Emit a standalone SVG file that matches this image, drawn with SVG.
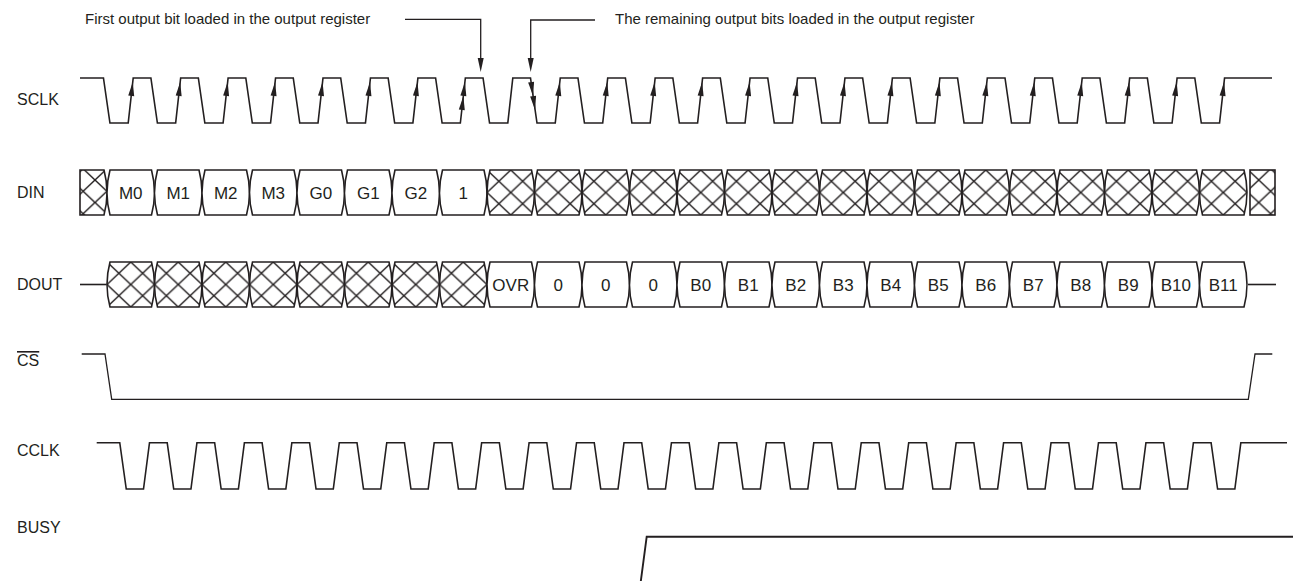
<svg xmlns="http://www.w3.org/2000/svg" xmlns:xlink="http://www.w3.org/1999/xlink" width="1293" height="581" viewBox="0 0 1293 581">
<style>
  .wave { fill: none; stroke: #231f20; stroke-width: 1.6; stroke-linejoin: miter; }
  .thin { fill: none; stroke: #231f20; stroke-width: 1.3; }
  .lbl { font-family: "Liberation Sans", Arial, sans-serif; font-size: 16px; fill: #231f20; }
  .ctxt { font-family: "Liberation Sans", Arial, sans-serif; font-size: 17px; fill: #231f20; text-anchor: middle; }
  .note { font-family: "Liberation Sans", Arial, sans-serif; font-size: 15px; fill: #231f20; }
  .ah { fill: #231f20; stroke: none; }
</style>
<defs>
  <pattern id="hatch" patternUnits="userSpaceOnUse" x="0" y="0" width="23.75" height="22.5">
    <path d="M0,0 L23.75,22.5 M23.75,0 L0,22.5" stroke="#231f20" stroke-width="1.4" fill="none"/>
  </pattern>
  <path id="cell" d="M3,0 H44.5 Q50.5,22.5 44.5,45 H3 Q-3,22.5 3,0 Z" fill="#ffffff" stroke="#231f20" stroke-width="1.6"/>
  <path id="xcell" d="M3,0 H44.5 Q50.5,22.5 44.5,45 H3 Q-3,22.5 3,0 Z" fill="url(#hatch)" stroke="#231f20" stroke-width="1.6"/>
  <path id="ahU" d="M0,0 L3,14 L-3,14 Z"/>
  <path id="ahD" d="M0,0 L3,-14 L-3,-14 Z"/>
</defs>
<rect x="0" y="0" width="1293" height="581" fill="#ffffff"/>

<g id="labels">
  <text class="lbl" x="17" y="105">SCLK</text>
  <text class="lbl" x="17" y="198">DIN</text>
  <text class="lbl" x="17" y="290">DOUT</text>
  <text class="lbl" x="17" y="366" text-decoration="overline">CS</text>
  <text class="lbl" x="17" y="456">CCLK</text>
  <text class="lbl" x="17" y="533">BUSY</text>
</g>

<g id="sclk">
  <path class="wave" d="M80,78 H103.45 l6.5,45 h18.25 l5,-45 h17.7 l6.5,45 h18.25 l5,-45 h17.7 l6.5,45 h18.25 l5,-45 h17.7 l6.5,45 h18.25 l5,-45 h17.7 l6.5,45 h18.25 l5,-45 h17.7 l6.5,45 h18.25 l5,-45 h17.7 l6.5,45 h18.25 l5,-45 h17.7 l6.5,45 h18.25 l5,-45 h17.7 l6.5,45 h18.25 l5,-45 h17.7 l6.5,45 h18.25 l5,-45 h17.7 l6.5,45 h18.25 l5,-45 h17.7 l6.5,45 h18.25 l5,-45 h17.7 l6.5,45 h18.25 l5,-45 h17.7 l6.5,45 h18.25 l5,-45 h17.7 l6.5,45 h18.25 l5,-45 h17.7 l6.5,45 h18.25 l5,-45 h17.7 l6.5,45 h18.25 l5,-45 h17.7 l6.5,45 h18.25 l5,-45 h17.7 l6.5,45 h18.25 l5,-45 h17.7 l6.5,45 h18.25 l5,-45 h17.7 l6.5,45 h18.25 l5,-45 h17.7 l6.5,45 h18.25 l5,-45 h17.7 l6.5,45 h18.25 l5,-45 h17.7 l6.5,45 h18.25 l5,-45 H1272"/>
  <g class="ah">
    <use href="#ahU" transform="translate(132.76,82) rotate(6.3)"/>
    <use href="#ahU" transform="translate(180.21,82) rotate(6.3)"/>
    <use href="#ahU" transform="translate(227.66,82) rotate(6.3)"/>
    <use href="#ahU" transform="translate(275.11,82) rotate(6.3)"/>
    <use href="#ahU" transform="translate(322.56,82) rotate(6.3)"/>
    <use href="#ahU" transform="translate(370.01,82) rotate(6.3)"/>
    <use href="#ahU" transform="translate(417.46,82) rotate(6.3)"/>
    <use href="#ahU" transform="translate(464.91,82) rotate(6.3)"/>
    <use href="#ahU" transform="translate(463.35,96) rotate(6.3)"/>
    <use href="#ahD" transform="translate(533.1,96) rotate(-8.2)"/>
    <use href="#ahD" transform="translate(535.1,110) rotate(-8.2)"/>
    <use href="#ahU" transform="translate(559.81,82) rotate(6.3)"/>
    <use href="#ahU" transform="translate(607.26,82) rotate(6.3)"/>
    <use href="#ahU" transform="translate(654.71,82) rotate(6.3)"/>
    <use href="#ahU" transform="translate(702.16,82) rotate(6.3)"/>
    <use href="#ahU" transform="translate(749.61,82) rotate(6.3)"/>
    <use href="#ahU" transform="translate(797.06,82) rotate(6.3)"/>
    <use href="#ahU" transform="translate(844.51,82) rotate(6.3)"/>
    <use href="#ahU" transform="translate(891.96,82) rotate(6.3)"/>
    <use href="#ahU" transform="translate(939.41,82) rotate(6.3)"/>
    <use href="#ahU" transform="translate(986.86,82) rotate(6.3)"/>
    <use href="#ahU" transform="translate(1034.31,82) rotate(6.3)"/>
    <use href="#ahU" transform="translate(1081.76,82) rotate(6.3)"/>
    <use href="#ahU" transform="translate(1129.21,82) rotate(6.3)"/>
    <use href="#ahU" transform="translate(1176.66,82) rotate(6.3)"/>
    <use href="#ahU" transform="translate(1224.11,82) rotate(6.3)"/>
  </g>
</g>

<g id="din">
  <path d="M80,170 H104 Q110,192.5 104,215 H80 Z" fill="url(#hatch)" stroke="#231f20" stroke-width="1.6"/>
  <use href="#cell" x="107" y="170"/>
  <use href="#cell" x="154.5" y="170"/>
  <use href="#cell" x="202" y="170"/>
  <use href="#cell" x="249.5" y="170"/>
  <use href="#cell" x="297" y="170"/>
  <use href="#cell" x="344.5" y="170"/>
  <use href="#cell" x="392" y="170"/>
  <use href="#cell" x="439.5" y="170"/>
  <use href="#xcell" x="487" y="170"/>
  <use href="#xcell" x="534.5" y="170"/>
  <use href="#xcell" x="582" y="170"/>
  <use href="#xcell" x="629.5" y="170"/>
  <use href="#xcell" x="677" y="170"/>
  <use href="#xcell" x="724.5" y="170"/>
  <use href="#xcell" x="772" y="170"/>
  <use href="#xcell" x="819.5" y="170"/>
  <use href="#xcell" x="867" y="170"/>
  <use href="#xcell" x="914.5" y="170"/>
  <use href="#xcell" x="962" y="170"/>
  <use href="#xcell" x="1009.5" y="170"/>
  <use href="#xcell" x="1057" y="170"/>
  <use href="#xcell" x="1104.5" y="170"/>
  <use href="#xcell" x="1152" y="170"/>
  <use href="#xcell" x="1199.5" y="170"/>
  <rect x="1250" y="170" width="25" height="45" fill="url(#hatch)" stroke="#231f20" stroke-width="1.6"/>
  <text class="ctxt" x="130.75" y="198.6">M0</text>
  <text class="ctxt" x="178.25" y="198.6">M1</text>
  <text class="ctxt" x="225.75" y="198.6">M2</text>
  <text class="ctxt" x="273.25" y="198.6">M3</text>
  <text class="ctxt" x="320.75" y="198.6">G0</text>
  <text class="ctxt" x="368.25" y="198.6">G1</text>
  <text class="ctxt" x="415.75" y="198.6">G2</text>
  <text class="ctxt" x="463.25" y="198.6">1</text>
</g>

<g id="dout">
  <path class="wave" d="M80,284.5 H106.7"/>
  <path class="wave" d="M1248,284.5 H1276"/>
  <use href="#xcell" x="107" y="262"/>
  <use href="#xcell" x="154.5" y="262"/>
  <use href="#xcell" x="202" y="262"/>
  <use href="#xcell" x="249.5" y="262"/>
  <use href="#xcell" x="297" y="262"/>
  <use href="#xcell" x="344.5" y="262"/>
  <use href="#xcell" x="392" y="262"/>
  <use href="#xcell" x="439.5" y="262"/>
  <use href="#cell" x="487" y="262"/>
  <use href="#cell" x="534.5" y="262"/>
  <use href="#cell" x="582" y="262"/>
  <use href="#cell" x="629.5" y="262"/>
  <use href="#cell" x="677" y="262"/>
  <use href="#cell" x="724.5" y="262"/>
  <use href="#cell" x="772" y="262"/>
  <use href="#cell" x="819.5" y="262"/>
  <use href="#cell" x="867" y="262"/>
  <use href="#cell" x="914.5" y="262"/>
  <use href="#cell" x="962" y="262"/>
  <use href="#cell" x="1009.5" y="262"/>
  <use href="#cell" x="1057" y="262"/>
  <use href="#cell" x="1104.5" y="262"/>
  <use href="#cell" x="1152" y="262"/>
  <use href="#cell" x="1199.5" y="262"/>
  <text class="ctxt" x="510.75" y="290.6">OVR</text>
  <text class="ctxt" x="558.25" y="290.6">0</text>
  <text class="ctxt" x="605.75" y="290.6">0</text>
  <text class="ctxt" x="653.25" y="290.6">0</text>
  <text class="ctxt" x="700.75" y="290.6">B0</text>
  <text class="ctxt" x="748.25" y="290.6">B1</text>
  <text class="ctxt" x="795.75" y="290.6">B2</text>
  <text class="ctxt" x="843.25" y="290.6">B3</text>
  <text class="ctxt" x="890.75" y="290.6">B4</text>
  <text class="ctxt" x="938.25" y="290.6">B5</text>
  <text class="ctxt" x="985.75" y="290.6">B6</text>
  <text class="ctxt" x="1033.25" y="290.6">B7</text>
  <text class="ctxt" x="1080.75" y="290.6">B8</text>
  <text class="ctxt" x="1128.25" y="290.6">B9</text>
  <text class="ctxt" x="1175.75" y="290.6">B10</text>
  <text class="ctxt" x="1223.25" y="290.6">B11</text>
</g>

<g id="cs">
  <path class="thin" d="M81.7,354 H105 L111.7,399.3 H1248.3 L1255,354 H1272.3"/>
</g>

<g id="cclk">
  <path class="wave" d="M96.7,442.7 H119.75 l6.5,46.3 h17.25 l6,-46.3 h17.7 l6.5,46.3 h17.25 l6,-46.3 h17.7 l6.5,46.3 h17.25 l6,-46.3 h17.7 l6.5,46.3 h17.25 l6,-46.3 h17.7 l6.5,46.3 h17.25 l6,-46.3 h17.7 l6.5,46.3 h17.25 l6,-46.3 h17.7 l6.5,46.3 h17.25 l6,-46.3 h17.7 l6.5,46.3 h17.25 l6,-46.3 h17.7 l6.5,46.3 h17.25 l6,-46.3 h17.7 l6.5,46.3 h17.25 l6,-46.3 h17.7 l6.5,46.3 h17.25 l6,-46.3 h17.7 l6.5,46.3 h17.25 l6,-46.3 h17.7 l6.5,46.3 h17.25 l6,-46.3 h17.7 l6.5,46.3 h17.25 l6,-46.3 h17.7 l6.5,46.3 h17.25 l6,-46.3 h17.7 l6.5,46.3 h17.25 l6,-46.3 h17.7 l6.5,46.3 h17.25 l6,-46.3 h17.7 l6.5,46.3 h17.25 l6,-46.3 h17.7 l6.5,46.3 h17.25 l6,-46.3 h17.7 l6.5,46.3 h17.25 l6,-46.3 h17.7 l6.5,46.3 h17.25 l6,-46.3 h17.7 l6.5,46.3 h17.25 l6,-46.3 h17.7 l6.5,46.3 h17.25 l6,-46.3 h17.7 l6.5,46.3 h17.25 l6,-46.3 H1287"/>
</g>

<g id="busy">
  <path class="wave" style="stroke-width:1.9" d="M640.7,582 L646.7,536.7 H1293"/>
</g>

<g id="note-first">
  <text class="note" x="85" y="24">First output bit loaded in the output register</text>
</g>
<g id="note-remaining">
  <text class="note" x="615" y="24">The remaining output bits loaded in the output register</text>
</g>

<g id="connectors">
  <path class="thin" d="M405,19.3 H480.7 V60"/>
  <use class="ah" href="#ahD" transform="translate(480.7,72)"/>
  <path class="thin" d="M595,20 H530.7 V60"/>
  <use class="ah" href="#ahD" transform="translate(530.7,72)"/>
</g>
</svg>
